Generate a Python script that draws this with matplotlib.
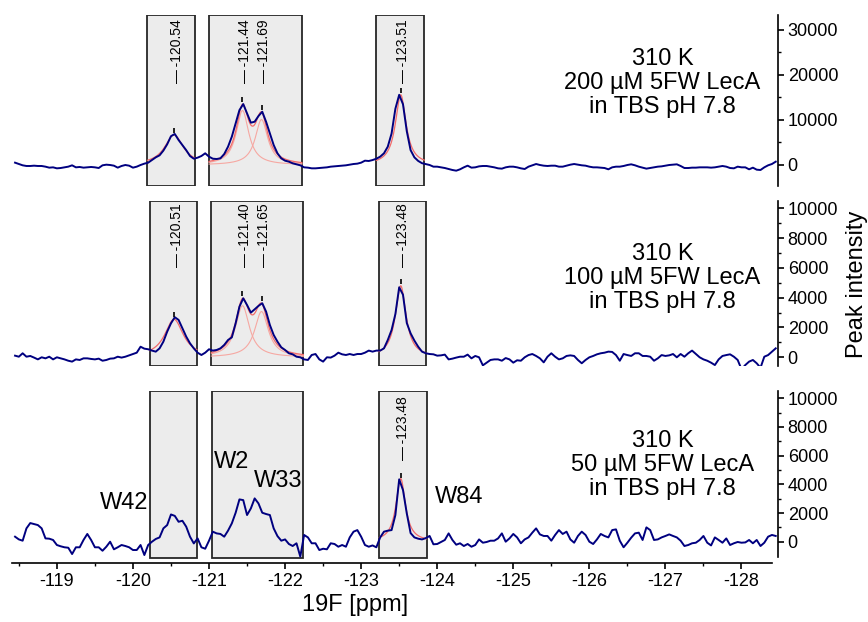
import numpy as np
import matplotlib.pyplot as plt

plt.rcParams['font.family'] = ['Liberation Sans', 'DejaVu Sans']
plt.rcParams['axes.unicode_minus'] = False

# chemical shift grid of the spectra (ppm)
ppm = np.linspace(-118.45, -128.45, 201)

# 19F spectra
int_200 = [
    520, 220, -70, -220, -220, -150, -220, -220, -370, -590,
    -520, -740, -670, -520, -370, -70, -520, -440, -590, -520,
    -440, -520, -670, -70, 70, 0, -150, -590, -220, 0,
    -150, -590, -370, 0, 300, 520, 1100, 1700, 2150, 3200,
    4600, 6400, 6900, 5550, 4440, 3300, 2000, 1400, 1630, 2000,
    2600, 1850, 1400, 1330, 1480, 2440, 4070, 6300, 9250, 12200,
    13540, 11470, 9400, 9620, 10880, 11840, 9620, 7030, 4440, 2590,
    1480, 960, 740, 370, 150, -70, -520, -590, -740, -740,
    -670, -590, -520, -370, -300, -220, -150, -70, 70, 220,
    300, 520, 960, 890, 1100, 1400, 1850, 2600, 4070, 7000,
    12500, 15600, 13500, 7500, 3300, 1700, 900, 400, 200, 0,
    -370, -370, -520, -670, -890, -1110, -1260, -960, -520, -150,
    -590, -520, -300, -220, -220, -370, -520, -740, -810, -520,
    -370, -370, -520, -740, -890, -370, -70, 220, 0, -150,
    -220, -150, -150, -370, -370, -150, 70, 220, 70, -70,
    -150, -370, -520, -520, -590, -670, -960, -520, -370, -370,
    -220, 0, 150, -70, -370, -590, -810, -670, -520, -370,
    -300, -150, 0, 70, 150, -220, -670, -670, -590, -590,
    -520, -520, -520, -590, -520, -370, -220, -370, -670, -740,
    -370, -520, -520, -960, -590, -1040, -1110, -520, -70, 220,
    740]
int_100 = [
    110, 40, 270, 40, 90, -20, -140, 0, -70, 40,
    -140, 0, -70, -140, -230, -290, -140, -180, -70, -70,
    -110, -140, -90, -230, -180, -90, -70, 40, -20, 40,
    130, 220, 310, 710, 580, 540, 450, 380, 600, 1050,
    1720, 2280, 2690, 2510, 1950, 1390, 940, 600, 310, 155,
    310, 540, 450, 490, 600, 830, 1160, 1340, 2280, 3400,
    3960, 3510, 3000, 3220, 3450, 3630, 3070, 2170, 1500, 1050,
    670, 490, 270, 200, 40, 0, -140, -180, 155, 220,
    -140, -290, 0, -20, 110, 310, 200, 155, 220, 155,
    220, 220, 310, 450, 380, 450, 450, 600, 1160, 1830,
    2900, 4700, 4200, 2300, 1610, 1120, 710, 380, 270, 220,
    200, 110, 130, 180, -140, -90, -20, 40, 40, 180,
    -70, 90, 0, -540, -360, -180, -140, -140, -230, -50,
    -140, -360, -200, -230, 0, 150, 220, 90, -70, -340,
    40, 270, 40, -140, -70, 90, 130, 90, -180, -400,
    -180, 0, 90, 200, 270, 310, 380, 360, 150, -230,
    220, 150, 90, 270, 270, 90, 90, 40, -230, -70,
    150, 90, 130, 220, 0, 220, 40, 270, 450, 220,
    0, -140, -230, -360, -520, -140, 90, 150, 200, 40,
    -180, -800, -520, -290, -180, -400, -700, 40, 150, 380,
    600]
int_50 = [
    350, 160, 70, 930, 1300, 1230, 1160, 930, 230, 210,
    120, -230, -320, -390, -420, -860, -390, -390, 120, 540,
    120, -390, -390, -630, -350, 0, -530, -390, -230, -300,
    -390, -580, -580, -230, -930, -230, 0, 190, 300, 930,
    1160, 1900, 1800, 1390, 1460, 1050, 350, -120, 230, -390,
    -490, 70, 700, 580, 540, 350, 770, 1280, 2020, 2950,
    2900, 1860, 2320, 3020, 2670, 2020, 1930, 1860, 930, 390,
    70, 160, -160, -300, -110, -1040, 470, 300, -110, -110,
    -580, -490, -530, -110, -160, -350, -230, -350, 300, 700,
    810, 350, -230, -350, -260, -390, 300, 700, 770, 810,
    1860, 4350, 3600, 1970, 600, 300, 210, 160, 250, 400,
    -180, -160, -20, 120, 580, 120, -210, -110, -300, -160,
    -350, -230, 160, -70, -20, 70, 70, 230, 580, 0,
    230, 540, 300, -110, 160, 300, 630, 930, 510, 400,
    400, 70, 470, 810, 540, 700, 160, -70, 400, 700,
    470, 0, -160, 160, 540, 400, 300, 810, 860, 70,
    -390, -70, 280, 580, 630, 120, 1000, 810, 120, 160,
    300, 400, 510, 400, 300, 70, -300, -230, -110, -70,
    120, 400, -70, -260, 300, 120, -70, 230, -230, -110,
    -20, -70, -50, 120, -110, 120, -300, -70, 350, 470,
    400]

# integration regions (ppm)
box_200 = [(-120.19, -120.82), (-121.00, -122.22), (-123.20, -123.83)]
box_100 = [(-120.22, -120.84), (-121.03, -122.24), (-123.23, -123.85)]
box_50 = [(-120.22, -120.84), (-121.04, -122.24), (-123.24, -123.86)]

# Lorentzian fits: position, height, half width
pos_200 = [-120.54, -121.44, -121.69, -123.52]
h_200 = [6700, 12100, 10100, 15600]
w_200 = [0.15, 0.10, 0.10, 0.085]
lab_200 = ['-120.54', '-121.44', '-121.69', '-123.51']

pos_100 = [-120.54, -121.44, -121.69, -123.52]
h_100 = [2550, 3460, 3070, 4800]
w_100 = [0.15, 0.11, 0.11, 0.085]
lab_100 = ['-120.51', '-121.40', '-121.65', '-123.48']

pos_50 = [-123.52]
h_50 = [4400]
w_50 = [0.075]
lab_50 = ['-123.48']

conc = ['200', '100', '50']
residues = ['W42', 'W2', 'W33', 'W84']
res_x = [-119.89, -121.30, -121.91, -124.29]
res_y = [2700, 5550, 4230, 3100]


def lorentz(x, c, h, w):
    return h / (1 + ((x - c) / w) ** 2)


fig = plt.figure(figsize=(8.68, 6.22), dpi=100)
W, H = 868, 622
left, width = 12 / W, 766 / W
rects = [(186, 171), (366, 165), (563, 172)]
ylims = [(-4667, 33333), (-584, 10490), (-1485, 10509)]
majors = [np.arange(0, 30001, 10000), np.arange(0, 10001, 2000), np.arange(0, 10001, 2000)]
minors = [np.arange(0, 30001, 5000), np.arange(0, 10001, 1000), np.arange(0, 10001, 1000)]
text_y = [0.602, 0.533, 0.57]

panels = [
    (int_200, box_200, pos_200, h_200, w_200, lab_200),
    (int_100, box_100, pos_100, h_100, w_100, lab_100),
    (int_50, box_50, pos_50, h_50, w_50, lab_50),
]

for k, (spec, boxes, pos, hh, ww, labs) in enumerate(panels):
    ybot, hpx = rects[k]
    ax = fig.add_axes([left, (H - ybot) / H, width, hpx / H])
    ax.set_xlim(-118.41, -128.48)
    ax.set_ylim(*ylims[k])
    dpp = (ylims[k][1] - ylims[k][0]) / hpx

    ymin = 0.03 if k == 2 else 0.0
    for lo, hi in boxes:
        ax.axvspan(lo, hi, ymin=ymin, ymax=1, facecolor='#ececec',
                   edgecolor='#262626', lw=1.3, zorder=1)

    # fits inside each region
    for lo, hi in boxes:
        idx = [j for j in range(len(pos)) if hi <= pos[j] <= lo]
        if not idx:
            continue
        xs = np.linspace(lo, hi, 300)
        total = np.zeros_like(xs)
        for j in idx:
            comp = lorentz(xs, pos[j], hh[j], ww[j])
            total += comp
            if len(idx) > 1:
                ax.plot(xs, comp, color='#f6a8a2', lw=0.8, zorder=2)
        ax.plot(xs, total, color='#f26a6a', lw=0.9, zorder=2)

    ax.plot(ppm, spec, color='#000080', lw=1.4, zorder=3)

    for j, p in enumerate(pos):
        apex = sum(lorentz(p, pos[m], hh[m], ww[m]) for m in range(len(pos)))
        ax.vlines(p, apex + 1 * dpp, apex + 6 * dpp, color='black', lw=1.2, zorder=4)
        ax.annotate('\u2014\u2009' + labs[j], xy=(p, 0.6), xycoords=('data', 'axes fraction'),
                    xytext=(2, 0), textcoords='offset points', rotation=90,
                    ha='center', va='bottom', fontsize=10, zorder=5)

    ax.text(0.849, text_y[k], '310 K\n%s \u00b5M 5FW LecA\nin TBS pH 7.8' % conc[k],
            transform=ax.transAxes, ha='center', va='center', fontsize=17,
            linespacing=1.12, multialignment='center')

    for s in ['top', 'left']:
        ax.spines[s].set_visible(False)
    ax.spines['right'].set_linewidth(1.2)
    ax.yaxis.tick_right()
    ax.set_yticks(majors[k])
    ax.set_yticks(minors[k], minor=True)
    ax.tick_params(axis='y', which='major', length=4, width=1.2, labelsize=13, pad=3)
    ax.tick_params(axis='y', which='minor', length=2, width=1.0)

    if k < 2:
        ax.spines['bottom'].set_visible(False)
        ax.set_xticks([])
    else:
        ax.spines['bottom'].set_linewidth(1.2)
        ax.spines['bottom'].set_bounds(-118.41, -128.40)
        ax.spines['right'].set_bounds(-1046, ylims[k][1])
        ax.set_xticks(np.arange(-119, -128.5, -1))
        ax.set_xticks(np.arange(-118.5, -128.5, -0.5), minor=True)
        ax.tick_params(axis='x', which='major', length=4.5, width=1.2, labelsize=13, pad=3)
        ax.tick_params(axis='x', which='minor', length=2, width=1.0)
        ax.set_xlabel('19F [ppm]', fontsize=17)
        ax.xaxis.label.set_va('center')
        ax.xaxis.set_label_coords(0.4484, -0.244)
        for name, rx, ry in zip(residues, res_x, res_y):
            ax.text(rx, ry, name, ha='center', va='center', fontsize=17, zorder=5)

fig.text(857 / W, 1 - 284 / H, 'Peak intensity', rotation=90, ha='center',
         va='center', fontsize=17)

fig.savefig('out.png', dpi=100)
